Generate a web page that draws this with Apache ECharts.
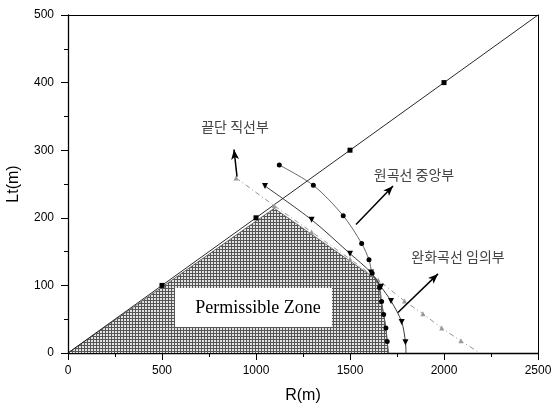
<!DOCTYPE html>
<html><head><meta charset="utf-8">
<script src="https://cdn.jsdelivr.net/npm/echarts@6/dist/echarts.min.js"></script>
<style>html,body{margin:0;padding:0;background:#fff}#c{width:551px;height:406px}</style>
</head><body><div id="c"></div>
<script>
// Straight line Lt = R/5 (square markers)
const lineR  = [0, 500, 1000, 1500, 2000, 2500];
const lineLt = [0, 100, 200, 300, 400, 500];
// 원곡선 (filled circles)
const circR  = [1124, 1305, 1464, 1562, 1601, 1618, 1657, 1668, 1679, 1691, 1698, 1704];
const circLt = [278, 248, 203, 162, 138, 118, 97, 76, 57, 37, 17, 0];
// down-triangle curve
const triR   = [1048, 1296, 1500, 1612, 1665, 1718, 1775, 1795, 1798];
const triLt  = [247, 197, 147, 119, 98, 77, 46, 16, 0];
// gray dash-dot line (up triangles)
const grayR  = [894, 1097, 1296, 1500, 1650, 1790, 1888, 1988, 2090, 2191];
const grayLt = [259, 218, 179, 139, 108, 77, 58, 37, 18, 0];
// permissible zone boundary
const zoneR  = [0, 1097, 1650, 1665, 1679, 1691, 1698, 1704];
const zoneLt = [0, 214, 107, 76, 57, 37, 17, 0];
// axis ticks
const xTicks = [0, 500, 1000, 1500, 2000, 2500];
const yTicks = [0, 100, 200, 300, 400, 500];
// annotation arrows [R1, Lt1, R2, Lt2]
const arrow1 = [899, 261, 883, 301];
const arrow2 = [1532, 190, 1729, 247];
const arrow3 = [1755, 60, 1968, 117];

const pc = document.createElement('canvas');
pc.width = 3; pc.height = 3;
const g = pc.getContext('2d');
g.fillStyle = '#e4e4e4'; g.fillRect(0,0,3,3);
g.fillStyle = '#555555'; g.fillRect(0,0,3,1); g.fillRect(0,0,1,3);

const pairs = (a,b) => a.map((v,i)=>[v,b[i]]);
const chart = echarts.init(document.getElementById('c'), null, {renderer:'canvas'});
const font = 'Liberation Sans, Arial, sans-serif';
function arrowLine(a){
  return [{coord:[a[0],a[1]], symbol:'none'},{coord:[a[2],a[3]], symbol:'arrow', symbolSize:[6,10]}];
}
chart.setOption({
  animation:false,
  grid:{left:68, right:13, top:15, bottom:53, containLabel:false, outerBoundsMode:'none'},
  xAxis:[{type:'value', min:xTicks[0], max:xTicks[xTicks.length-1], interval:500,
    name:'R(m)', nameLocation:'middle', nameGap:35,
    nameTextStyle:{fontFamily:font, fontSize:16, color:'#000'},
    axisLine:{lineStyle:{color:'#000', width:1.3}},
    axisTick:{inside:false, length:7, lineStyle:{color:'#000'}},
    minorTick:{show:true, splitNumber:2, length:4, lineStyle:{color:'#000'}},
    axisLabel:{fontFamily:font, fontSize:12, color:'#000', margin:12, formatter:v=>String(v)},
    splitLine:{show:false}},
   {type:'value', position:'top', min:0, max:2500, axisLine:{show:true, onZero:false, lineStyle:{color:'#000'}},
    axisTick:{show:false}, axisLabel:{show:false}, splitLine:{show:false}}],
  yAxis:[{type:'value', min:yTicks[0], max:yTicks[yTicks.length-1], interval:100,
    name:'Lt(m)', nameLocation:'middle', nameGap:46,
    nameTextStyle:{fontFamily:font, fontSize:16, color:'#000'},
    axisLine:{show:true, lineStyle:{color:'#000', width:1.3}},
    axisTick:{show:true, inside:false, length:7, lineStyle:{color:'#000'}},
    minorTick:{show:true, splitNumber:2, length:4, lineStyle:{color:'#000'}},
    axisLabel:{fontFamily:font, fontSize:12, color:'#000', margin:14},
    splitLine:{show:false}},
   {type:'value', position:'right', min:0, max:500, axisLine:{show:true, onZero:false, lineStyle:{color:'#000'}},
    axisTick:{show:false}, axisLabel:{show:false}, splitLine:{show:false}}],
  series:[
    {type:'line', data:pairs(zoneR,zoneLt), symbol:'none', z:1,
     lineStyle:{color:'#555', width:0.8},
     areaStyle:{color:{image:pc, repeat:'repeat'}, opacity:1}},
    {type:'line', z:3, data:pairs(lineR,lineLt).map((p,i)=>({value:p, symbol:(i===0||i===lineR.length-1)?'none':'rect'})),
     symbolSize:5, lineStyle:{color:'#111', width:0.9}, itemStyle:{color:'#000'}},
    {type:'line', z:3, smooth:0.3, data:pairs(grayR,grayLt).map((p,i)=>({value:p, symbol:i===grayR.length-1?'none':'triangle'})),
     symbolSize:5, lineStyle:{color:'#888', width:0.9, type:[5,3,1,3]}, itemStyle:{color:'#999'},
     markLine:{silent:true, symbol:['none','arrow'], label:{show:false}, lineStyle:{color:'#000', width:1.5, type:'solid'},
       data:[arrowLine(arrow1), arrowLine(arrow2), arrowLine(arrow3)]}},
    {type:'line', z:4, smooth:0.3, data:pairs(triR,triLt).map((p,i)=>({value:p, symbol:i===triR.length-1?'none':'triangle', symbolRotate:180})),
     symbolSize:6, lineStyle:{color:'#222', width:0.9}, itemStyle:{color:'#000'}},
    {type:'line', z:4, smooth:0.3, data:pairs(circR,circLt).map((p,i)=>({value:p, symbol:i===circR.length-1?'none':'circle'})),
     symbolSize:5, lineStyle:{color:'#555', width:0.9}, itemStyle:{color:'#000'}}
  ],
  graphic:[
    {type:'rect', shape:{x:175, y:288, width:157, height:39}, style:{fill:'#fff'}, z:10},
    {type:'text', x:258, y:308, z:11, style:{text:'Permissible Zone', fontFamily:'Liberation Serif, Times New Roman, serif', fontSize:18, fill:'#000', align:'center', verticalAlign:'middle'}},
    {type:'text', x:235, y:127, z:11, style:{text:'끝단 직선부', fontFamily:'Noto Sans CJK KR', fontSize:14, fill:'#444', align:'center', verticalAlign:'middle'}},
    {type:'text', x:414, y:175, z:11, style:{text:'원곡선 중앙부', fontFamily:'Noto Sans CJK KR', fontSize:14, fill:'#444', align:'center', verticalAlign:'middle'}},
    {type:'text', x:458, y:257, z:11, style:{text:'완화곡선 임의부', fontFamily:'Noto Sans CJK KR', fontSize:14, fill:'#444', align:'center', verticalAlign:'middle'}}
  ]
});
</script></body></html>
